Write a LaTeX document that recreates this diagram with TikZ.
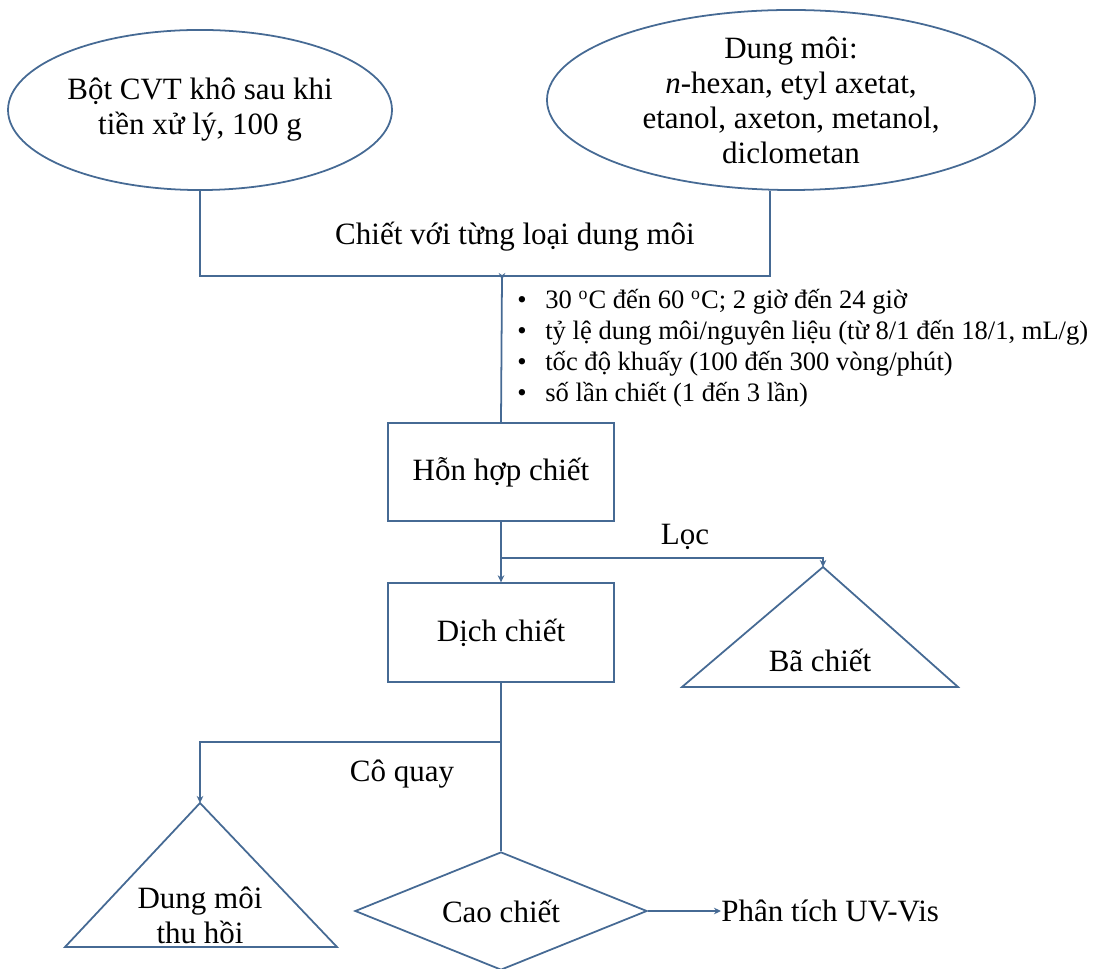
\documentclass[tikz,border=0pt]{standalone}
\usepackage{fontspec}
\setmainfont{Liberation Serif}
\usetikzlibrary{shapes.geometric,arrows.meta,calc}
\definecolor{lc}{RGB}{70,106,148}
\begin{document}
\begin{tikzpicture}[x=0.4516pt,y=-0.4516pt,
  every node/.style={inner sep=0pt, font=\fontsize{14}{15.8}\selectfont},
  conn/.style={draw=lc, line width=0.8pt},
  tipd/.style={-{Stealth[length=3.2pt,width=3pt]}},
  outline/.style={draw=lc, line width=0.8pt},
  ell/.style={ellipse, outline, align=center},
  boxn/.style={rectangle, outline, minimum width=102.1pt, minimum height=44.5pt},
  lbl/.style={}]
\useasboundingbox (0,0) rectangle (1094,969);

% top ellipses
\node[ell, minimum width=173.4pt, minimum height=72.3pt] (e1) at (200,110)
  {Bột CVT khô sau khi\\tiền xử lý, 100 g};
\node[ell, minimum width=220.4pt, minimum height=81.3pt] (e2) at (791,100)
  {Dung môi:\\\textit{n}-hexan, etyl axetat,\\etanol, axeton, metanol,\\diclometan};

\coordinate (j) at (502,276);
\coordinate (e2b) at ([xshift=-9.5pt]e2.south);
\draw[conn] (e1.south) |- (j);
\draw[conn] (e2b) |- (j);
\draw[conn,tipd] (j) -- ++(0,4);

\node[lbl] (l1) at (515,237) {Chiết với từng loại dung môi};

% conditions
\node[anchor=base west, font=\fontsize{12}{14}\selectfont] (cond) at (517,309)
  {\begin{tabular}[t]{@{}l@{\hspace{8.4pt}}l@{}}
  \textbullet & 30 \textsuperscript{o}C đến 60 \textsuperscript{o}C; 2 giờ đến 24 giờ\\
  \textbullet & tỷ lệ dung môi/nguyên liệu (từ 8/1 đến 18/1, mL/g)\\
  \textbullet & tốc độ khuấy (100 đến 300 vòng/phút)\\
  \textbullet & số lần chiết (1 đến 3 lần)
  \end{tabular}};

% boxes
\node[boxn] (b1) at (501,472) {Hỗn hợp chiết};
\node[boxn] (b2) at (501,632.5) {Dịch chiết};
\draw[conn] (j) -- (b1.north);
\draw[conn,tipd] (b1.south) -- (b2.north);

\coordinate (f1) at (501,558);
\coordinate (t2) at (823,567);
\draw[outline] (t2) -- (682,687) -- (958,687) -- cycle;
\node (bac) at (820,660) {Bã chiết};
\draw[conn,tipd] (f1) -| (t2);
\node[lbl] (loc) at (685,537) {Lọc};

% diamond
\node[diamond, outline, minimum width=131.9pt, minimum height=53.3pt, aspect=2.4] (d) at (501,911) {Cao chiết};
\draw[conn] (b2.south) -- (d.north);

\coordinate (f2) at (501,742);
\coordinate (t1) at (200,803);
\draw[outline] (t1) -- (65,947) -- (337,947) -- cycle;
\node[align=center] (dm) at (200,915) {Dung môi\\thu hồi};
\draw[conn,tipd] (f2) -| (t1);
\node[lbl] (cq) at (402,774) {Cô quay};

\node[anchor=west] (uv) at (721,911) {Phân tích UV-Vis};
\draw[conn,tipd] (d.east) -- (uv.west);
\end{tikzpicture}
\end{document}
